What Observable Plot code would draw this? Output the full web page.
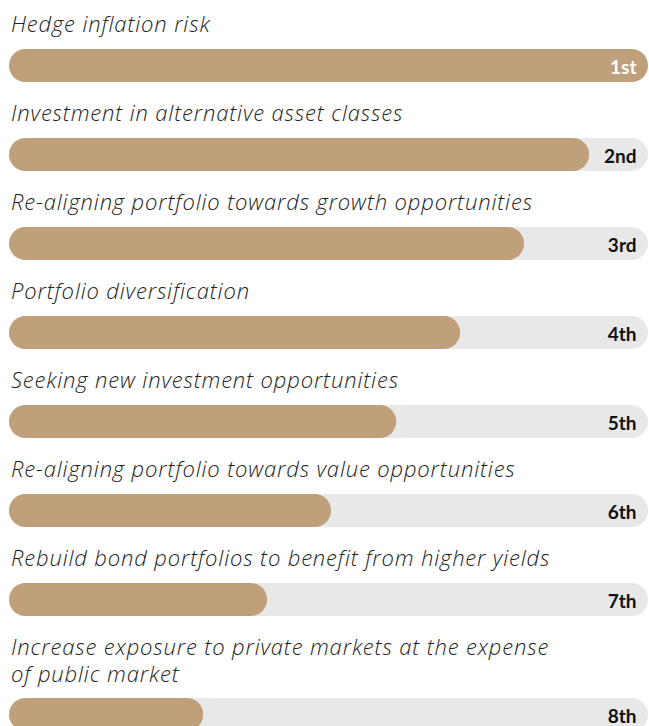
<!DOCTYPE html>
<html>
<head>
<meta charset="utf-8">
<script src="https://cdn.jsdelivr.net/npm/d3@7"></script>
<script src="https://cdn.jsdelivr.net/npm/@observablehq/plot@0.6"></script>
<style>
  html, body { margin: 0; padding: 0; background: #fff; overflow: hidden; }
  #chart { padding-top: 10px; width: 649px; }
  .label {
    font-family: "Open Sans", Lato, "Noto Sans", sans-serif;
    font-style: italic;
    font-weight: 300;
    font-size: 22px;
    line-height: 27px;
    letter-spacing: 0.85px;
    color: #222;
    padding-left: 11px;
    white-space: pre-line;
  }
  .label.wrap { line-height: 26.5px; }
  .row svg { display: block; margin-top: 12px; margin-bottom: 17px; }
</style>
</head>
<body>
<div id="chart"></div>
<script>
const categories = [
  "Hedge inflation risk",
  "Investment in alternative asset classes",
  "Re-aligning portfolio towards growth opportunities",
  "Portfolio diversification",
  "Seeking new investment opportunities",
  "Re-aligning portfolio towards value opportunities",
  "Rebuild bond portfolios to benefit from higher yields",
  "Increase exposure to private markets at the expense\nof public market"
];
const scores = [100, 90.8, 80.6, 70.6, 60.6, 50.4, 40.4, 30.4];
const ranks = ["1st", "2nd", "3rd", "4th", "5th", "6th", "7th", "8th"];
const maxScore = 100;

const tan = "#bfa07a";
const track = "#e8e8e8";

const chart = document.getElementById("chart");
categories.forEach((cat, i) => {
  const row = document.createElement("div");
  row.className = "row";
  const lab = document.createElement("div");
  lab.className = cat.includes("\n") ? "label wrap" : "label";
  lab.textContent = cat;
  row.appendChild(lab);
  const datum = [{category: cat, score: scores[i], rank: ranks[i], max: maxScore}];
  const plot = Plot.plot({
    width: 649,
    height: 33,
    marginLeft: 9,
    marginRight: 1,
    marginTop: 0,
    marginBottom: 0,
    x: {domain: [0, maxScore], axis: null},
    color: {type: "identity"},
    style: {background: "transparent", overflow: "visible"},
    marks: [
      Plot.barX(datum, {x: "max", fill: track, rx: 16.5}),
      Plot.barX(datum, {x: "score", fill: tan, rx: 16.5}),
      Plot.text(datum, {
        x: "max",
        text: "rank",
        dx: -12,
        dy: 1.5,
        textAnchor: "end",
        fill: d => i === 0 ? "#ffffff" : "#111111",
        fontSize: 19,
        fontWeight: "bold",
        fontFamily: "Lato, 'Noto Sans', sans-serif"
      })
    ]
  });
  row.appendChild(plot);
  chart.appendChild(row);
});
</script>
</body>
</html>
